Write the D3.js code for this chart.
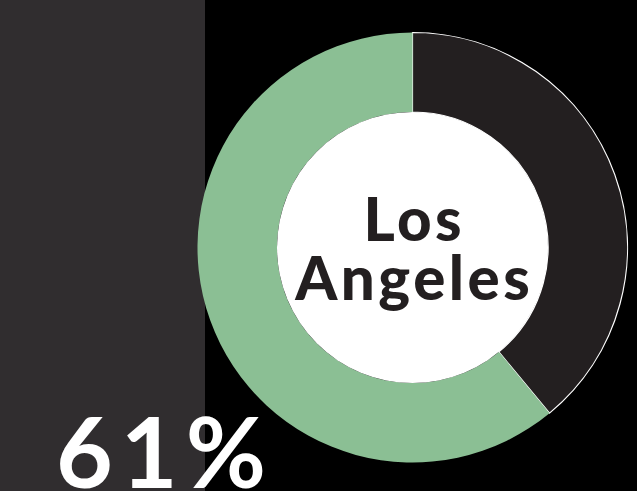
<!DOCTYPE html>
<html><head><meta charset="utf-8">
<script src="https://cdn.jsdelivr.net/npm/d3@7"></script>
<style>html,body{margin:0;padding:0;background:#000;}svg{display:block;}</style>
</head><body>
<script>
const categories = ["Other", "Los Angeles"];
const values = [39, 61];
const colors = ["#231f20", "#8bbf94"];
const cityLines = ["Los", "Angeles"];
const percentLabel = "61%";

const W = 637, H = 491;
const svg = d3.select("body").append("svg").attr("width", W).attr("height", H);
svg.append("rect").attr("width", W).attr("height", H).attr("fill", "#000");
svg.append("rect").attr("width", 205).attr("height", H).attr("fill", "#302d2f");

const cx = 412.5, cy = 247.5, rOuter = 215, rInner = 135.5;
const pie = d3.pie().sort(null).value(d => d)(values);
const arc = d3.arc().innerRadius(rInner).outerRadius(rOuter);
const g = svg.append("g").attr("transform", `translate(${cx},${cy})`);
g.selectAll("path").data(pie).join("path")
  .attr("d", arc)
  .attr("fill", (d, i) => colors[i])
  .attr("stroke", (d, i) => i === 0 ? "#fff" : "none")
  .attr("stroke-width", 1.2);
g.append("circle").attr("r", rInner).attr("fill", "#fff");

const t = g.append("text").attr("text-anchor", "middle")
  .attr("font-family", "Lato").attr("font-weight", 900)
  .attr("font-size", 60).attr("letter-spacing", 3.5).attr("fill", "#231f20");
cityLines.forEach((s, i) => t.append("tspan").attr("x", 1.75).attr("y", -7 + i * 59).text(s));

svg.append("text").attr("x", 56).attr("y", 488)
  .attr("font-family", "Lato").attr("font-weight", 700)
  .attr("font-size", 98).attr("letter-spacing", 8).attr("fill", "#fff").text(percentLabel);
</script>
</body></html>
